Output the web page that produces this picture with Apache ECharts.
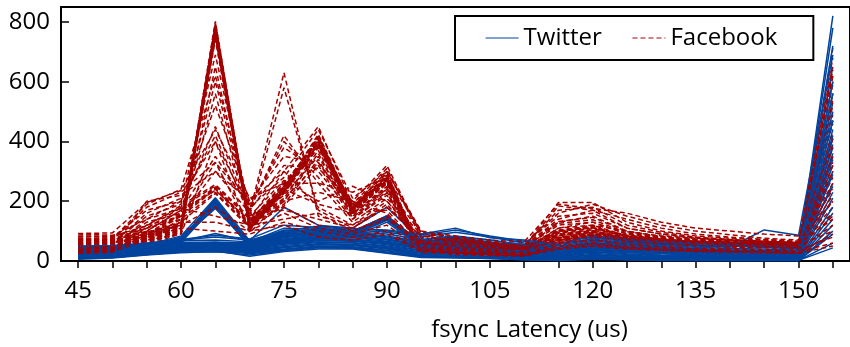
<!DOCTYPE html>
<html>
<head>
<meta charset="utf-8">
<script src="https://cdn.jsdelivr.net/npm/echarts@6/dist/echarts.min.js"></script>
<style>
html,body{margin:0;padding:0;background:#fff;}
#chart{width:850px;height:347px;}
</style>
</head>
<body>
<div id="chart"></div>
<script>
// fsync latency bins (us)
const latencyBins = [45,50,55,60,65,70,75,80,85,90,95,100,105,110,115,120,125,130,135,140,145,150,155];
const xTickValues = [45,50,55,60,65,70,75,80,85,90,95,100,105,110,115,120,125,130,135,140,145,150,155];
const xLabelValues = [45,60,75,90,105,120,135,150];
const yLabelValues = [0,200,400,600,800];

// Twitter traces (one row per trace)
const twitterRuns = [
  [20,26,40,70,208,60,90,110,100,150,60,70,60,40,30,50,40,36,30,28,26,24,780],
  [24,30,46,76,200,56,100,100,90,140,56,66,56,36,28,46,36,32,28,26,24,22,650],
  [16,22,36,66,196,50,84,96,86,136,50,60,50,34,24,40,34,30,26,24,22,20,560],
  [30,34,50,80,190,64,110,106,96,146,66,76,64,44,34,56,44,40,34,30,28,26,440],
  [12,18,32,62,186,46,80,90,80,130,46,56,46,30,20,36,30,26,22,20,18,16,300],
  [26,30,44,72,182,58,94,104,94,144,62,72,62,42,32,52,42,38,32,30,28,24,820],
  [18,24,38,68,204,52,88,98,88,138,54,64,54,38,26,44,38,34,28,26,24,22,380],
  [34,38,54,84,212,68,180,120,110,180,70,80,70,50,40,60,48,44,38,34,32,28,250],
  [22,28,42,74,176,54,96,108,98,152,58,68,58,40,30,48,40,34,30,28,26,24,600],
  [28,32,48,78,194,62,104,102,92,142,64,74,62,42,32,54,42,38,32,30,28,26,350],
  [10,14,24,32,36,30,40,50,48,36,20,18,14,10,6,14,10,8,6,6,4,4,120],
  [14,18,28,36,40,34,46,56,54,42,26,24,20,14,10,20,14,12,10,8,8,6,160],
  [18,22,32,40,44,38,52,62,60,48,30,30,24,18,14,26,18,16,14,12,10,10,210],
  [22,26,36,44,48,42,58,68,66,54,36,36,30,22,18,32,24,20,18,16,14,12,260],
  [26,30,40,48,52,46,62,74,72,60,42,42,36,28,22,38,30,26,22,20,18,16,320],
  [30,32,42,52,56,50,68,80,78,66,48,48,40,32,26,44,36,30,26,24,22,20,360],
  [34,36,46,56,58,54,72,86,84,72,54,56,46,38,30,50,42,36,32,28,26,24,410],
  [38,40,50,60,60,58,78,92,90,78,60,62,52,42,34,56,48,42,36,32,30,28,470],
  [42,44,52,64,46,62,84,98,96,84,66,70,58,48,38,62,54,48,42,38,36,34,530],
  [12,16,26,34,38,24,36,46,44,30,16,14,10,6,4,10,6,4,2,2,2,2,90],
  [8,12,22,30,34,16,32,40,40,26,12,10,8,4,2,8,4,2,2,2,2,2,60],
  [20,24,34,42,50,40,56,64,62,50,34,34,28,20,16,30,22,18,16,14,12,12,230],
  [28,30,40,50,54,48,64,76,74,62,44,44,38,30,24,40,32,28,24,22,20,18,340],
  [36,38,48,58,62,56,74,88,86,74,56,58,48,40,32,52,44,38,34,30,28,26,600],
  [44,48,56,66,92,66,92,106,104,96,80,96,80,60,46,70,62,56,50,46,104,86,690],
  [16,20,30,38,42,36,48,58,56,44,28,28,22,16,12,22,16,14,12,10,10,8,180],
  [24,28,38,46,50,44,60,70,68,58,40,40,34,26,20,36,28,24,20,18,16,14,290],
  [32,34,44,54,58,52,70,82,80,70,52,52,44,36,28,48,40,34,30,26,24,22,390],
  [40,42,50,62,64,60,80,94,92,80,62,66,56,46,36,60,52,46,40,36,34,30,500],
  [48,50,58,70,80,70,100,116,110,100,86,104,84,66,50,76,68,62,56,50,46,40,720],
  [10,12,22,30,30,28,38,48,46,34,18,16,12,8,4,12,8,6,4,4,4,2,100],
  [46,46,54,68,70,64,88,100,98,90,72,84,70,54,42,66,58,52,46,42,40,36,560],
  [14,16,26,34,36,32,44,54,52,40,22,20,16,12,8,16,12,10,8,6,6,4,140],
  [50,52,60,72,86,74,120,112,108,104,90,110,78,70,56,84,74,66,60,56,52,48,420],
  [6,10,20,28,32,20,34,44,42,28,14,12,8,4,2,6,4,2,2,2,2,2,44],
  [32,36,46,54,44,40,66,78,70,64,50,50,42,34,28,46,38,32,28,26,24,22,470]
];

// Facebook traces (one row per trace)
const facebookRuns = [
  [62,58,72,108,802,118,246,418,178,288,30,38,30,36,72,88,70,62,58,55,52,48,712],
  [48,52,66,102,792,112,238,408,172,280,26,34,28,32,64,80,66,58,54,52,50,46,640],
  [70,66,80,116,786,124,252,412,182,276,34,42,36,40,84,96,76,66,62,58,56,52,590],
  [40,44,58,96,778,106,232,400,168,272,22,30,26,30,58,74,60,54,50,48,46,42,520],
  [84,80,92,124,770,130,258,396,186,268,38,46,40,44,96,108,82,70,64,62,58,56,460],
  [56,60,70,110,764,116,242,392,176,284,28,36,32,38,70,86,68,60,56,54,50,48,410],
  [36,38,52,92,756,104,228,386,162,266,20,28,24,28,54,70,58,50,48,46,44,40,360],
  [76,72,86,120,748,126,248,404,190,292,36,44,38,42,90,102,78,68,62,60,58,54,300],
  [52,50,64,104,740,110,236,380,170,262,24,32,30,34,66,82,64,56,52,50,48,44,250],
  [66,64,76,114,796,120,244,424,180,296,32,40,34,38,78,92,72,62,58,56,54,50,680],
  [44,46,60,98,774,108,234,414,174,282,26,34,28,32,62,78,62,56,52,50,48,46,200],
  [90,86,96,128,760,134,262,398,184,274,40,48,42,46,100,112,86,72,66,64,60,58,560],
  [58,54,68,106,782,114,240,410,176,278,30,36,30,34,68,84,66,58,54,52,50,46,490],
  [72,70,82,118,752,122,250,388,180,270,34,42,36,40,86,98,74,64,60,58,54,50,620],
  [50,56,90,160,248,128,210,370,160,250,40,44,36,40,110,120,84,72,66,62,58,54,470],
  [42,48,82,150,240,120,200,360,150,240,34,40,32,36,100,112,80,68,62,58,54,50,380],
  [60,64,100,170,236,136,220,350,166,258,46,48,40,44,120,130,90,76,70,66,62,58,330],
  [34,40,74,140,230,116,190,340,146,232,30,36,30,34,92,104,74,64,58,56,52,48,280],
  [72,74,110,178,252,140,226,380,170,262,50,52,42,48,126,138,94,80,72,68,64,60,620],
  [46,52,86,156,244,124,206,330,156,246,36,42,34,38,104,116,82,70,64,60,56,52,180],
  [28,34,68,130,226,110,184,320,140,228,28,32,26,30,86,98,70,60,56,52,50,46,150],
  [80,82,118,186,256,146,232,390,176,266,54,56,46,52,132,146,98,84,76,70,66,62,430],
  [38,42,120,180,450,160,630,150,120,200,80,60,50,46,90,100,80,70,60,56,52,50,540],
  [46,50,140,200,420,150,580,170,110,180,70,56,46,42,80,96,76,66,58,54,50,48,300],
  [54,60,160,210,400,170,420,260,130,210,90,70,58,50,100,110,86,74,64,60,56,52,240],
  [30,34,100,170,350,180,400,280,140,220,60,50,40,38,76,88,70,62,56,52,48,46,220],
  [64,70,180,230,330,190,380,300,160,240,96,80,66,56,150,160,110,90,76,70,64,60,500],
  [40,46,200,220,300,200,350,330,180,300,100,76,60,52,170,180,120,96,80,72,66,62,350],
  [58,62,150,190,690,170,320,310,200,320,86,66,54,48,196,196,130,100,84,76,70,64,200],
  [26,30,90,120,650,140,300,450,190,310,76,62,50,44,184,170,140,110,90,80,72,66,660],
  [68,74,190,240,620,180,280,440,210,300,94,74,60,54,160,190,150,120,100,88,76,70,410],
  [50,54,130,160,600,150,270,200,250,200,66,52,44,40,130,150,100,82,70,64,60,56,160],
  [36,40,110,140,560,130,180,120,100,150,50,40,36,34,110,130,90,76,66,60,56,52,100],
  [74,78,170,200,520,200,300,180,120,180,84,66,56,50,140,170,110,90,78,70,64,60,260],
  [44,48,96,130,130,100,160,110,90,120,40,30,26,24,60,70,56,48,42,40,38,36,80],
  [32,36,80,110,100,90,130,100,80,100,34,26,22,20,50,60,48,42,38,36,34,30,60],
  [82,84,140,176,150,120,140,160,100,140,56,44,40,38,70,84,66,58,52,48,46,42,120],
  [60,66,120,150,330,110,240,190,160,170,46,36,30,28,76,90,74,66,60,56,52,48,320],
  [28,32,70,90,400,96,200,230,200,160,38,28,22,20,44,56,44,38,34,32,30,28,90],
  [92,94,196,236,440,210,260,260,230,280,100,84,70,64,190,176,160,130,110,100,90,84,390],
  [54,58,110,150,300,160,170,140,110,190,60,50,44,40,100,120,100,80,70,66,62,58,140],
  [40,44,86,120,180,100,120,80,70,90,30,22,18,16,40,50,40,36,32,30,28,26,50]
];

const BLUE = '#00449e';
const RED = '#a30000';
const FONT = '"Open Sans", "Noto Sans", sans-serif';

function makeSeries(name, run, color, dashed) {
  return {
    name: name,
    type: 'line',
    symbol: 'none',
    silent: true,
    data: latencyBins.map((x, i) => [x, run[i]]),
    lineStyle: { color: color, width: 1.5, type: dashed ? [5, 3] : 'solid' },
    itemStyle: { color: color }
  };
}

const series = [];
const n = Math.max(twitterRuns.length, facebookRuns.length);
for (let i = 0; i < n; i++) {
  if (i < twitterRuns.length) series.push(makeSeries('Twitter', twitterRuns[i], BLUE, false));
  if (i < facebookRuns.length) series.push(makeSeries('Facebook', facebookRuns[i], RED, true));
}

const chart = echarts.init(document.getElementById('chart'), null, { renderer: 'canvas' });
chart.setOption({
  animation: false,
  backgroundColor: '#fff',
  textStyle: { fontFamily: FONT },
  grid: {
    left: 61, top: 7, width: 792, height: 260.7,
    show: true, borderColor: '#000', borderWidth: 2, backgroundColor: 'transparent'
  },
  legend: {
    data: ['Twitter', 'Facebook'],
    left: 455, top: 16,
    orient: 'horizontal',
    itemWidth: 33, itemHeight: 14, itemGap: 30,
    padding: [10, 36, 10, 30],
    borderColor: '#000', borderWidth: 2, backgroundColor: '#fff',
    itemStyle: { opacity: 0 },
    lineStyle: { width: 1.2 },
    textStyle: { fontSize: 24, color: '#000', fontFamily: FONT }
  },
  xAxis: {
    type: 'value',
    min: 42.5, max: 157.5,
    name: 'fsync Latency (us)',
    nameLocation: 'middle',
    nameGap: 57,
    nameTextStyle: { fontSize: 24, color: '#000', fontFamily: FONT, padding: [0, 0, 0, 148] },
    axisLine: { show: true, onZero: false, lineStyle: { color: '#000', width: 2 } },
    axisTick: { show: true, inside: false, length: 7, customValues: xTickValues, lineStyle: { color: '#000', width: 1.5 } },
    axisLabel: { customValues: xLabelValues, fontSize: 24, color: '#000', margin: 18, fontFamily: FONT },
    splitLine: { show: false }
  },
  yAxis: {
    type: 'value',
    min: 0, max: 850,
    axisLine: { show: true, lineStyle: { color: '#000', width: 2 } },
    axisTick: { show: true, inside: true, length: 8, customValues: yLabelValues, lineStyle: { color: '#000', width: 1.5 } },
    axisLabel: { customValues: yLabelValues, fontSize: 24, color: '#000', margin: 11, fontFamily: FONT, padding: [6, 0, 0, 0] },
    splitLine: { show: false }
  },
  series: series
});
</script>
</body>
</html>
